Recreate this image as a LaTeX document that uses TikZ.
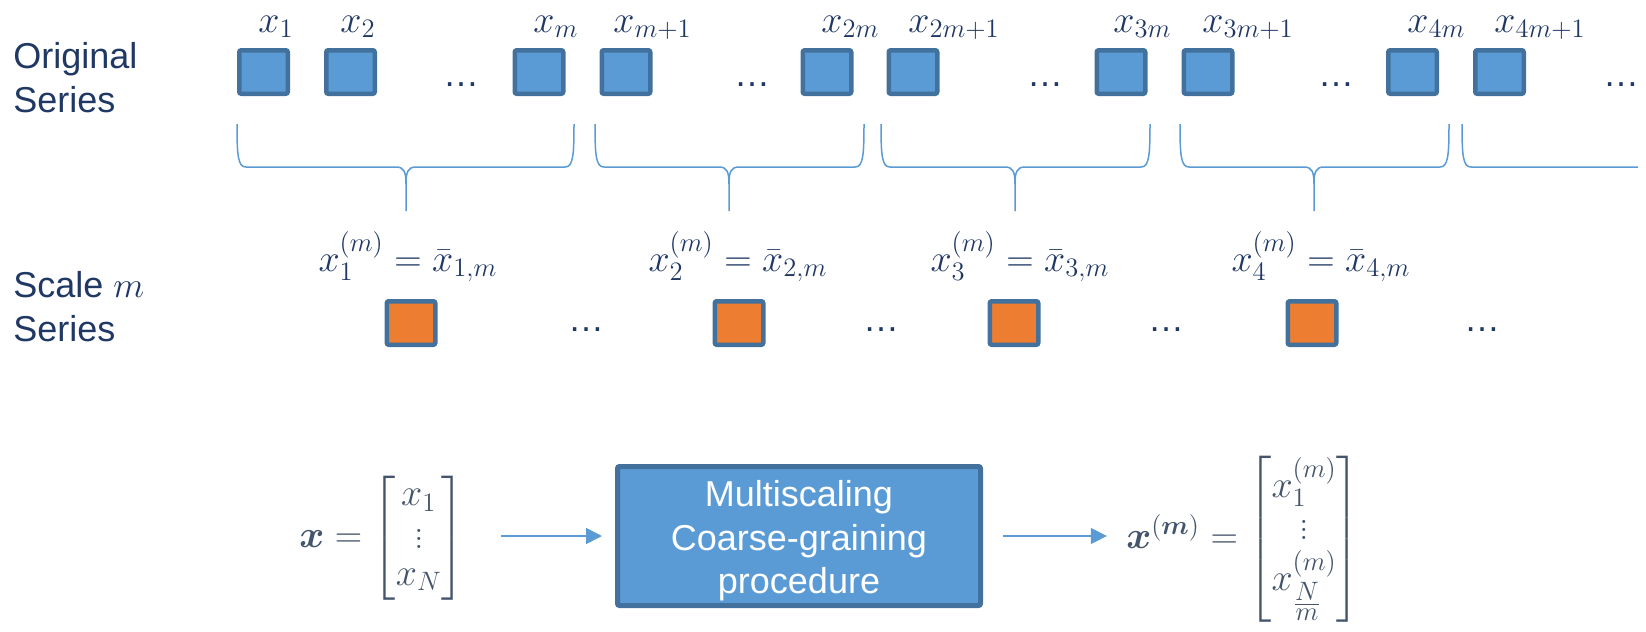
\RequirePackage{fix-cm}
\documentclass[tikz,border=0pt]{standalone}
\usepackage{amsmath}
\usepackage{bm}
\usepackage{fontspec}
\newfontfamily\arialf{Liberation Sans}
\usetikzlibrary{arrows.meta}
\definecolor{navy}{HTML}{203864}
\definecolor{slate}{HTML}{44546A}
\definecolor{sqblue}{HTML}{5B9BD5}
\definecolor{sqborder}{HTML}{41719C}
\definecolor{sqorange}{HTML}{ED7D31}
\newcommand\mybrace[3]{%
  \draw[brc] (#1,124) .. controls (#1,156) and (#1+1,167) .. (#1+9,167) -- (#3-10,167)
     .. controls (#3-2,167) and (#3,172) .. (#3,184) -- (#3,211);
  \draw[brc] (#2,124) .. controls (#2,156) and (#2-1,167) .. (#2-9,167) -- (#3+10,167)
     .. controls (#3+2,167) and (#3,172) .. (#3,184);}
\begin{document}
\begin{tikzpicture}[x=0.5pt,y=-0.5pt,
  sq/.style={draw=sqborder, line width=2.25pt, rounded corners=1pt, minimum width=24.25pt, minimum height=21.75pt, inner sep=0pt},
  bluesq/.style={sq, fill=sqblue},
  orsq/.style={sq, fill=sqorange},
  lab/.style={inner sep=0pt, text=navy, font=\fontsize{19}{22}\selectfont},
  sans/.style={inner sep=0pt, text=navy, font=\arialf\fontsize{18}{22}\selectfont, align=left},
  dotsn/.style={inner sep=0pt, text=navy, font=\arialf\fontsize{18}{22}\selectfont},
  brc/.style={draw=sqblue, line width=0.75pt},
  arr/.style={draw=sqblue, line width=0.75pt, -{Triangle[length=8pt,width=8pt]}},
  eq/.style={inner sep=0pt, text=slate, font=\fontsize{19}{18.5}\selectfont},
]
\useasboundingbox (0,0) rectangle (1646,632);

% row labels (base anchor = last line)
\node[sans, anchor=base west] (orig) at (13,112) {Original\\Series};
\node[sans, anchor=base west] (scal) at (13,341) {Scale $m$\\Series};

% original series squares
\foreach \n/\c in {s1/263.5, s2/350.5, sm/539, smA/626, s2m/827, s2mA/913, s3m/1121, s3mA/1208, s4m/1412.5, s4mA/1499.5}
  \node[bluesq] (\n) at (\c,72) {};

% labels
\node[lab, anchor=base west] (l1) at (258,32) {$x_1$};
\node[lab, anchor=base west] (l2) at (340,32) {$x_2$};
\node[lab, anchor=base west] (l3) at (533,32) {$x_m$};
\node[lab, anchor=base west] (l4) at (613,32) {$x_{m+1}$};
\node[lab, anchor=base west] (l5) at (821,32) {$x_{2m}$};
\node[lab, anchor=base west] (l6) at (908,32) {$x_{2m+1}$};
\node[lab, anchor=base west] (l7) at (1113,32) {$x_{3m}$};
\node[lab, anchor=base west] (l8) at (1202,32) {$x_{3m+1}$};
\node[lab, anchor=base west] (l9) at (1407,32) {$x_{4m}$};
\node[lab, anchor=base west] (l10) at (1494,32) {$x_{4m+1}$};

% dots top
\foreach \n/\c in {d1/461, d2/752, d3/1045, d4/1336, d5/1621}
  \node[dotsn, anchor=base] (\n) at (\c,86) {…};

% braces
\mybrace{237}{574}{406}
\mybrace{595}{864}{729}
\mybrace{881}{1150}{1015}
\mybrace{1180}{1449}{1314}
\draw[brc] (1462,124) .. controls (1462,156) and (1463,167) .. (1471,167) -- (1638,167);

% scale m series
\node[lab, anchor=base] (m1) at (408,271) {$x_1^{(m)} = \bar{x}_{1,m}$};
\node[lab, anchor=base] (m2) at (738,271) {$x_2^{(m)} = \bar{x}_{2,m}$};
\node[lab, anchor=base] (m3) at (1020,271) {$x_3^{(m)} = \bar{x}_{3,m}$};
\node[lab, anchor=base] (m4) at (1321,271) {$x_4^{(m)} = \bar{x}_{4,m}$};
\foreach \n/\c in {o1/411, o2/739, o3/1014, o4/1312}
  \node[orsq] (\n) at (\c,323) {};
\foreach \n/\c in {e1/586, e2/881, e3/1166, e4/1482}
  \node[dotsn, anchor=base] (\n) at (\c,331) {…};

% bottom
\node[draw=sqborder, fill=sqblue, line width=2.5pt, rounded corners=1pt, minimum width=181.5pt, minimum height=69.5pt, inner sep=0pt] (box) at (799,536) {};
\node[text=white, font=\arialf\fontsize{18}{21.75}\selectfont, align=center, inner sep=0pt] (boxtext) at (799,541) {Multiscaling\\Coarse-graining\\procedure};
\node[eq] (xv) at (382,538) {$\bm{x} = \begin{bmatrix} x_1\\ \vdots\\ x_N\end{bmatrix}$};
\node[eq] (xm) at (1243,539) {$\bm{x}^{(\bm{m})} = \begin{bmatrix} x_1^{(m)}\\ \vdots\\ x_{\frac{\scriptstyle N}{\scriptstyle m}}^{(m)}\end{bmatrix}$};
\draw[arr, shorten <=18pt, shorten >=6.5pt] (xv.east |- box.west) -- (box.west);
\draw[arr, shorten <=10pt, shorten >=9.5pt] (box.east) -- (box.east -| xm.west);
\end{tikzpicture}
\end{document}
